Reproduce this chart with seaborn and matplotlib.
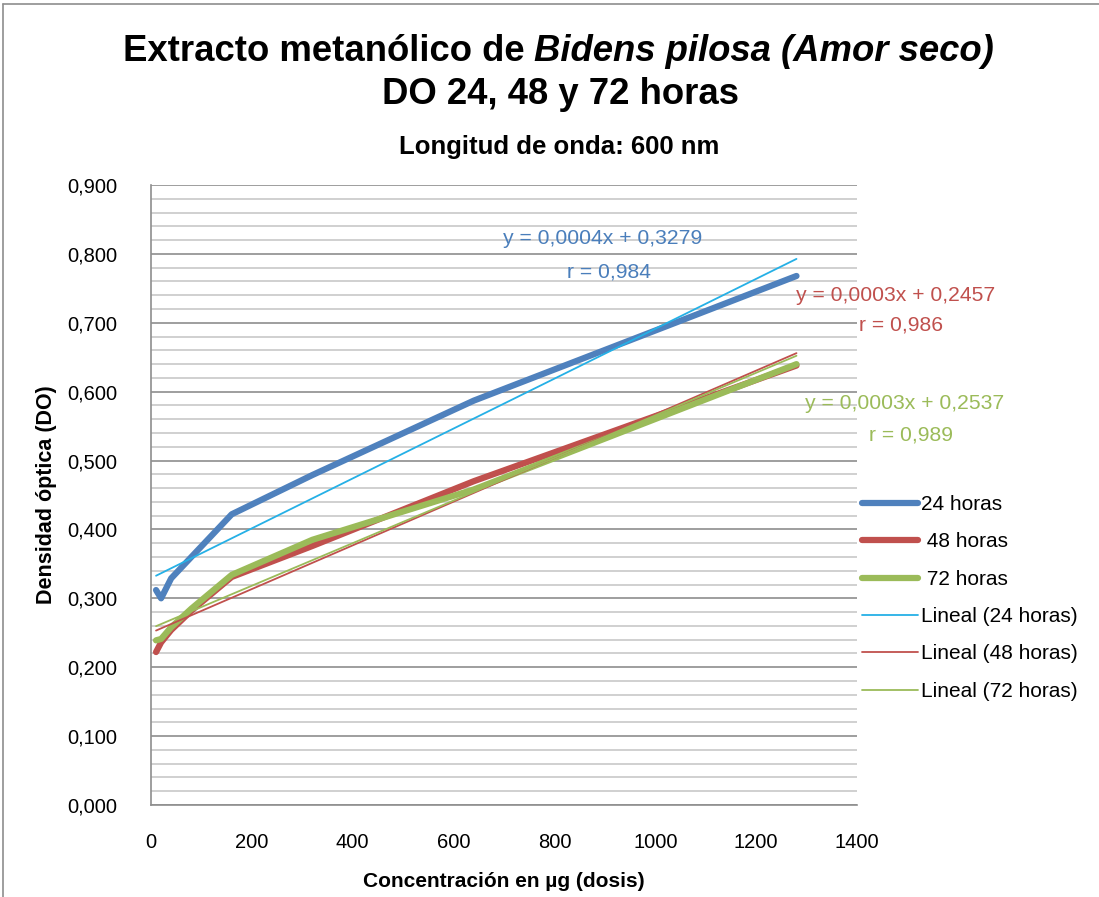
import numpy as np
import pandas as pd
import seaborn as sns
import matplotlib.pyplot as plt
from matplotlib.lines import Line2D
from matplotlib.ticker import MultipleLocator, FuncFormatter

# dose values (ug) and optical density readings
dosis = [10, 20, 40, 80, 160, 320, 640, 1280]
do_24 = [0.312, 0.300, 0.329, 0.360, 0.422, 0.479, 0.587, 0.768]
do_48 = [0.222, 0.236, 0.254, 0.282, 0.331, 0.376, 0.470, 0.638]
do_72 = [0.239, 0.241, 0.258, 0.285, 0.334, 0.385, 0.458, 0.640]

series_labels = ['24 horas', ' 48 horas', ' 72 horas']
trend_labels = ['Lineal (24 horas)', 'Lineal (48 horas)', 'Lineal (72 horas)']
eq_texts = ['y = 0,0004x + 0,3279', 'y = 0,0003x + 0,2457', 'y = 0,0003x + 0,2537']
r_texts = ['r = 0,984', 'r = 0,986', 'r = 0,989']

line_colors = ['#4F81BD', '#C0504D', '#9BBB59']
trend_colors = ['#25B0E6', '#C0504D', '#9BBB59']
text_colors = ['#4A7EBB', '#C0504D', '#9BBB59']

sns.set_style('white')
plt.rcParams['font.family'] = ['Liberation Sans', 'DejaVu Sans']
plt.rcParams['text.color'] = 'black'
plt.rcParams['axes.labelcolor'] = 'black'
plt.rcParams['xtick.color'] = 'black'
plt.rcParams['ytick.color'] = 'black'

df = pd.DataFrame({
    'dosis': dosis * 3,
    'DO': do_24 + do_48 + do_72,
    'serie': sum([[lab] * len(dosis) for lab in series_labels], []),
})

fig = plt.figure(figsize=(10.99, 8.97), dpi=100)
ax = fig.add_axes([0.1374, 0.1026, 0.6424, 0.6911])

# gridlines first so the data sits on top
ax.yaxis.set_major_locator(MultipleLocator(0.1))
ax.yaxis.set_minor_locator(MultipleLocator(0.02))
ax.grid(which='minor', axis='y', color='#C8C8C8', linewidth=1.2)
ax.grid(which='major', axis='y', color='#8E8E8E', linewidth=1.2)
ax.set_axisbelow(True)

sns.lineplot(data=df, x='dosis', y='DO', hue='serie', palette=line_colors,
             linewidth=4.5, ax=ax, legend=False, estimator=None)

# linear trend lines
xs = np.array(dosis, dtype=float)
for vals, col in zip([do_24, do_48, do_72], trend_colors):
    m, b = np.polyfit(xs, vals, 1)
    sns.lineplot(x=[xs[0], xs[-1]], y=[m * xs[0] + b, m * xs[-1] + b],
                 color=col, linewidth=1.3, ax=ax)

ax.set_xlim(0, 1400)
ax.set_ylim(0, 0.9)
ax.xaxis.set_major_locator(MultipleLocator(200))
ax.yaxis.set_major_formatter(FuncFormatter(lambda v, p: f'{v:.3f}'.replace('.', ',')))
ax.tick_params(axis='both', labelsize=14.5, length=0)
ax.tick_params(axis='y', pad=24)
ax.tick_params(axis='x', pad=20)

for s in ['top', 'right']:
    ax.spines[s].set_visible(False)
for s in ['left', 'bottom']:
    ax.spines[s].set_color('#8E8E8E')
    ax.spines[s].set_linewidth(1.2)

ax.set_xlabel('Concentración en µg (dosis)', fontsize=15, fontweight='bold', labelpad=14.5)
ax.set_ylabel('Densidad óptica (DO)', fontsize=15.5, fontweight='bold', labelpad=7.5)

# regression annotations
eq_pos = [(896, 0.823), (1477, 0.740), (1495, 0.583)]
r_pos = [(908, 0.774), (1487, 0.697), (1507, 0.537)]
for i in range(3):
    ax.text(eq_pos[i][0], eq_pos[i][1], eq_texts[i], color=text_colors[i],
            fontsize=15.2, ha='center', va='center')
    ax.text(r_pos[i][0], r_pos[i][1], r_texts[i], color=text_colors[i],
            fontsize=15.2, ha='center', va='center')

# title: first line mixes upright and italic bold
renderer = fig.canvas.get_renderer()
t1 = fig.text(0, 0.943, 'Extracto metanólico de ', fontsize=26.3, fontweight='bold',
              ha='left', va='center')
t2 = fig.text(0, 0.943, 'Bidens pilosa (Amor seco)', fontsize=26.3, fontweight='bold',
              style='italic', ha='left', va='center')
w1 = t1.get_window_extent(renderer).width / fig.bbox.width
w2 = t2.get_window_extent(renderer).width / fig.bbox.width
x0 = 0.508 - (w1 + w2) / 2
t1.set_x(x0)
t2.set_x(x0 + w1)
fig.text(0.51, 0.8945, 'DO 24, 48 y 72 horas', fontsize=26.3, fontweight='bold',
         ha='center', va='center')
fig.text(0.509, 0.836, 'Longitud de onda: 600 nm', fontsize=18.5, fontweight='bold',
         ha='center', va='center')

handles = [Line2D([], [], color=c, linewidth=4.5) for c in line_colors]
handles += [Line2D([], [], color=c, linewidth=1.3) for c in trend_colors]
fig.legend(handles, series_labels + trend_labels, loc='upper left',
           bbox_to_anchor=(0.7843, 0.448), frameon=False, fontsize=15,
           handlelength=2.7, handletextpad=0.12, labelspacing=0.88,
           borderpad=0, borderaxespad=0)

# outer chart border
fig.add_artist(Line2D([0.003, 0.003], [0, 0.995], color='#8E8E8E', linewidth=1.2))
fig.add_artist(Line2D([0.003, 1], [0.995, 0.995], color='#8E8E8E', linewidth=1.2))

fig.savefig('out.png', dpi=100)
